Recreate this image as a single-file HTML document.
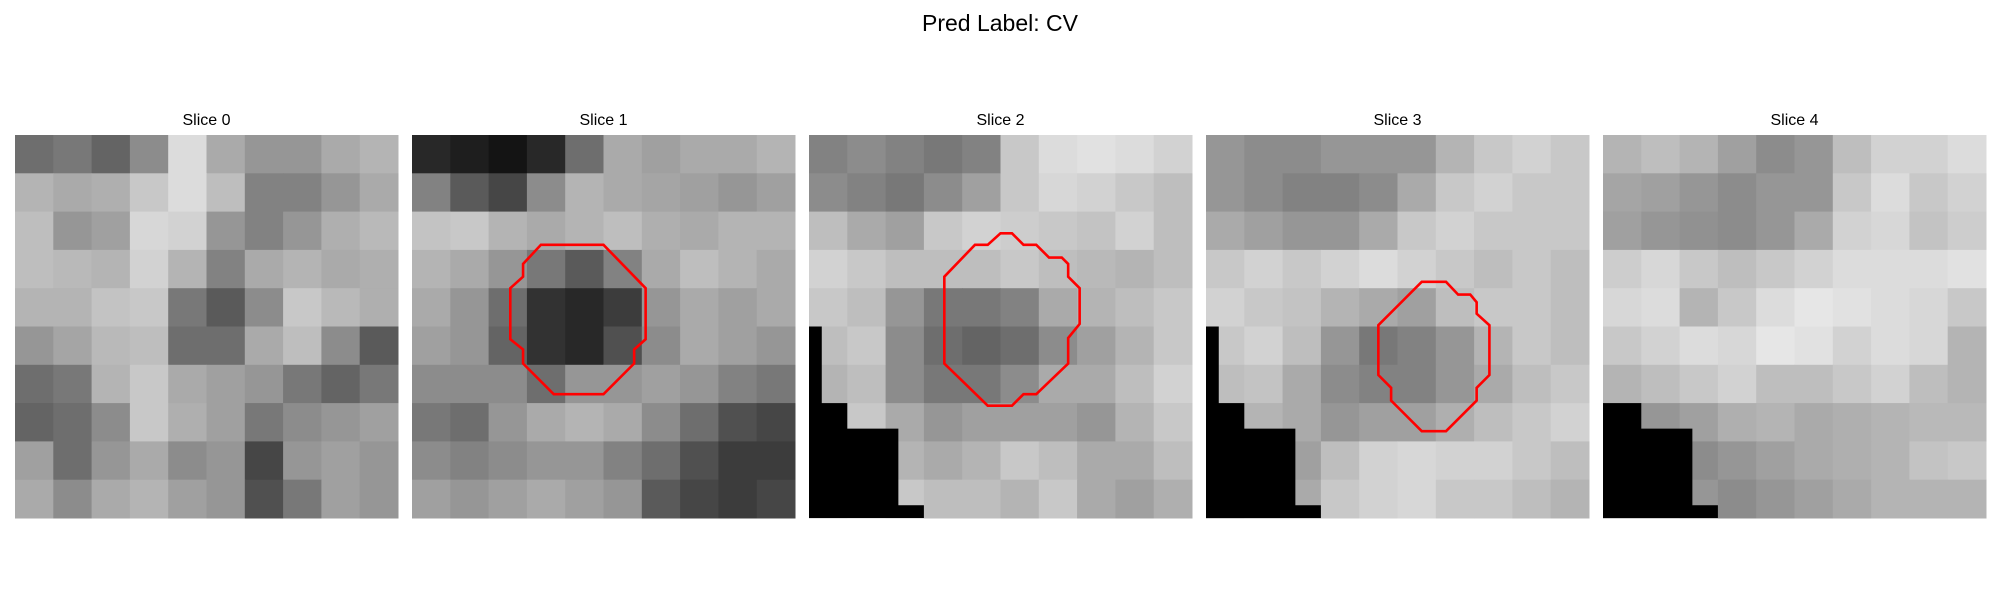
<!DOCTYPE html>
<html><head><meta charset="utf-8"><style>
html,body{margin:0;padding:0;background:#fff;}
svg{display:block;font-family:"Liberation Sans","DejaVu Sans",sans-serif;}
</style></head><body>
<svg id="fig" width="2000" height="600" viewBox="0 0 2000 600">
<text x="1000" y="31" text-anchor="middle" font-size="23" fill="#000">Pred Label: CV</text>
</svg>
<script>
const sliceTitles = ["Slice 0","Slice 1","Slice 2","Slice 3","Slice 4"];
const slice0 = [
[110,120,100,140,220,170,150,150,170,180],
[180,170,175,200,220,190,130,130,150,170],
[190,150,160,215,210,150,130,150,175,185],
[190,185,180,210,180,130,170,180,170,175],
[180,180,195,200,120,90,140,200,185,175],
[150,165,185,190,110,110,170,190,140,90],
[110,120,180,200,170,160,150,120,100,120],
[100,110,140,200,175,160,120,140,150,160],
[160,110,150,170,140,150,70,150,160,150],
[170,140,170,180,160,150,80,120,160,150]];
const slice1 = [
[40,30,20,40,110,170,160,170,170,180],
[130,90,70,140,180,170,165,160,150,160],
[195,200,180,170,180,190,175,170,180,180],
[180,170,150,120,90,130,170,190,180,170],
[170,150,110,50,40,60,150,170,160,170],
[160,150,100,50,40,80,140,170,160,150],
[140,140,140,110,150,150,160,150,130,120],
[120,110,150,170,180,170,140,110,80,70],
[140,130,140,150,150,130,110,80,60,60],
[160,150,160,170,160,150,90,70,60,70]];
const slice2 = [
[130,140,130,120,130,200,220,225,220,210],
[140,130,120,140,160,200,215,210,200,190],
[190,170,160,200,210,205,200,195,210,190],
[210,200,190,190,190,200,190,185,180,190],
[200,190,150,120,120,130,170,180,190,200],
[190,200,140,110,100,110,140,160,180,200],
[180,190,140,120,120,140,170,170,190,210],
[185,200,170,150,160,160,160,150,180,200],
[190,200,180,170,180,200,190,170,170,190],
[200,210,200,190,190,180,200,170,160,175]];
const slice3 = [
[150,140,140,150,150,150,180,200,210,200],
[150,140,130,130,140,170,200,210,200,200],
[170,160,150,150,170,200,210,200,200,200],
[200,210,200,210,220,210,200,190,200,190],
[210,200,195,180,170,160,190,200,200,190],
[200,210,190,150,120,130,150,180,200,190],
[190,195,170,140,130,130,150,170,190,200],
[175,180,170,150,160,160,175,190,200,210],
[170,180,160,190,210,215,210,210,200,190],
[160,170,170,200,210,215,200,200,190,180]];
const slice4 = [
[180,190,180,160,140,150,190,210,210,220],
[165,160,150,140,150,150,200,220,200,210],
[160,150,145,140,150,170,210,215,195,205],
[205,215,200,190,200,210,220,220,220,225],
[215,220,180,200,220,230,225,220,215,200],
[200,210,220,215,230,225,210,220,215,180],
[180,190,200,210,190,190,200,210,190,180],
[160,150,160,175,180,170,175,180,185,185],
[150,150,140,150,160,170,175,180,195,200],
[160,160,150,140,150,160,170,180,180,180]];
const slices = [slice0, slice1, slice2, slice3, slice4];
// masked (black) regions: [startRow, numCols] in 30x30 cell units
const mask23 = [[15,1],[21,3],[23,7],[29,9]];
const mask4 = [[21,3],[23,7],[29,9]];
const masks = [[], [], mask23, mask23, mask4];
// contour polygons in cell units (x=col, y=row)
const contour1x = [10.1,15.0,18.3,18.3,17.4,17.4,15.0,11.1,8.7,8.7,7.7,7.7,8.7,8.7];
const contour1y = [8.6,8.6,12.0,16.0,16.8,17.9,20.3,20.3,17.9,16.8,16.0,12.0,11.1,10.1];
const contour2x = [14.0,15.9,16.8,17.8,20.3,20.3,21.2,21.2,20.3,20.3,19.8,18.8,17.8,16.8,15.9,15.0,14.0,13.0,10.6,10.6];
const contour2y = [21.2,21.2,20.3,20.3,17.9,15.9,14.8,12.0,11.1,10.1,9.6,9.6,8.6,8.6,7.7,7.7,8.6,8.6,11.1,17.9];
const contour3x = [16.9,18.8,19.75,20.7,21.2,21.2,22.2,22.2,21.2,21.2,18.8,16.9,14.5,14.5,13.5,13.5];
const contour3y = [11.5,11.5,12.5,12.5,13.1,14.0,14.9,18.8,19.8,20.8,23.2,23.2,20.8,19.8,18.8,14.9];
const contoursX = [null, contour1x, contour2x, contour3x, null];
const contoursY = [null, contour1y, contour2y, contour3y, null];

const NS = "http://www.w3.org/2000/svg";
const svg = document.getElementById('fig');
const panelLeft = i => 15 + i * 397;
const panelTop = 135, panelSize = 383, nCells = 30;
const cellSz = panelSize / nCells;
const cx = (i, c) => panelLeft(i) + c * cellSz;
const cy = r => panelTop + r * cellSz;

slices.forEach((grid, i) => {
  const g = document.createElementNS(NS, 'g');
  
  
  svg.appendChild(g);
  const t = document.createElementNS(NS, 'text');
  t.setAttribute('x', panelLeft(i) + panelSize / 2);
  t.setAttribute('y', 125);
  t.setAttribute('text-anchor', 'middle');
  t.setAttribute('font-size', '16');
  t.textContent = sliceTitles[i];
  
  
  g.appendChild(t);
  const n = grid.length, blk = nCells / n;
  grid.forEach((row, r) => row.forEach((v, c) => {
    const rect = document.createElementNS(NS, 'rect');
    rect.setAttribute('x', cx(i, c * blk));
    rect.setAttribute('y', cy(r * blk));
    rect.setAttribute('width', cellSz * blk + 0.5);
    rect.setAttribute('height', cellSz * blk + 0.5);
    rect.setAttribute('fill', `rgb(${v},${v},${v})`);
    
    
    g.appendChild(rect);
  }));
  masks[i].forEach(([r0, nc]) => {
    const m = document.createElementNS(NS, 'rect');
    m.setAttribute('x', cx(i, 0));
    m.setAttribute('y', cy(r0));
    m.setAttribute('width', nc * cellSz);
    m.setAttribute('height', (nCells - r0) * cellSz);
    m.setAttribute('fill', '#000');
    
    
    g.appendChild(m);
  });
  if (contoursX[i]) {
    const pts = contoursX[i].map((x, k) => cx(i, x) + ',' + cy(contoursY[i][k])).join(' ');
    const p = document.createElementNS(NS, 'polygon');
    p.setAttribute('points', pts);
    p.setAttribute('fill', 'none');
    p.setAttribute('stroke', '#ff0000');
    p.setAttribute('stroke-width', '2.6');
    
    
    g.appendChild(p);
  }
});
</script>
</body></html>
